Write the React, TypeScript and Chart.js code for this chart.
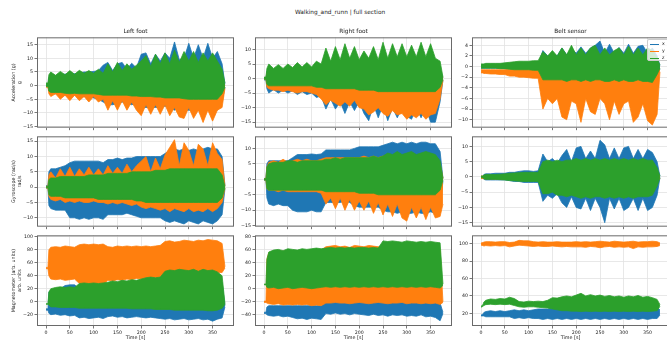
import React, { useEffect, useRef } from 'react';
import { Chart, registerables } from 'chart.js';
Chart.register(...registerables);

// ---------- data ----------
const TIME = [0, 4, 6, 10, 20, 30, 40, 50, 60, 70, 80, 90, 100, 110, 120, 130, 140, 150, 160, 170, 180, 190, 200, 210, 220, 230, 240, 250, 260, 270, 280, 290, 300, 310, 320, 330, 340, 350, 360, 370, 376];
const X_TICKS = [0, 50, 100, 150, 200, 250, 300, 350];
const X_MIN = -19;
const X_MAX = 395;

const SUPTITLE = 'Walking_and_runn | full section';
const COL_TITLES = ['Left foot', 'Right foot', 'Belt sensor'];
const ROW_LABELS = [['Acceleration (g)', 'g'], ['Gyroscope (rad/s)', 'rad/s'], ['Magnetometer (arb. units)', 'arb. units']];
const X_LABEL = 'Time [s]';
const SERIES = ['x', 'y', 'z'];
const COLORS = ['#1f77b4', '#ff7f0e', '#2ca02c'];

// Left foot acceleration
const LA_X_HI = [0.3,0.3,3, 3.5,3.5,4,4.2,4.5,4.4,4.6,5,5,5.2, 5.5,7.5,8.5,5.5,8,8.5,6,8.2,6.5,11.5, 12,8,11.5,9,12,10,16,9.5,10,15.5, 10,15,10,15.5,10,12.5,8, 0.5];
const LA_X_LO = [-0.2,-0.2,-2, -2.5,-3,-3,-3.5,-3.5,-3.5,-4,-4,-4,-4.5, -5,-6,-7,-7,-6.5,-6,-6.5,-7,-6.5,-8, -8,-8,-8,-8,-7.5,-8,-9,-8,-9,-9, -9,-9,-9.5,-9,-9,-9,-6, -0.5];
const LA_Y_HI = [-0.3,-0.3,1.5, 2,2,2,2.5,2.5,2.5,2.5,2.5,2.5,2.5, 2.5,3,3,3,3,3,3,3,3,3.5, 3.5,3.5,3.5,3.5,3.5,3.5,3.5,3.5,3.5,3.5, 3.5,3.5,3.5,3.5,3.5,3.5,2, 0];
const LA_Y_LO = [-0.6,-0.6,-3, -4,-3,-5,-3.5,-5.5,-3.5,-5.5,-4,-6,-4, -6,-5,-9,-5.5,-9,-5.5,-9,-6,-9,-11, -7,-10.5,-7,-10.5,-7,-11,-8,-11.5,-12,-8, -12,-9,-13.5,-9,-13,-9,-8, -1];
const LA_Z_HI = [1,1,4, 5,3.8,5.2,4,5.5,4.2,5.6,4.5,5.5,4.5, 6,4.5,8,5,8.5,5.5,8,6,7.5,9, 11,7,11.5,8,12,8,13,8.5,12.5,9, 12.5,8.5,12,9,12,9,6, 1];
const LA_Z_LO = [-0.3,-0.3,-2, -2.5,-2.5,-2.5,-2.8,-3,-2.8,-3,-3,-3,-3, -3.2,-3.5,-3.5,-3.5,-3.5,-3.5,-3.5,-3.8,-3.8,-4, -4,-4,-4.2,-4.2,-4.5,-4.5,-4.5,-4.5,-4.8,-5, -5,-5,-5,-5,-5,-5,-3, -0.5];

// Right foot acceleration
const RA_X_HI = [0.3,0.3,2.5, 3,3,3,3,3,3,3,3,3,3, 3.5,3.5,3.5,3.5,3.5,3.5,3.5,3.5,3.5,3.5, 3.5,3.5,3.5,3.5,3.5,3.5,3.5,3.5,3.5,3.5, 3.5,3.5,3.5,3.5,3.5,3.5,3, 0.3];
const RA_X_LO = [-0.5,-0.5,-3.5, -5,-3.8,-5,-4,-5,-4.2,-5.5,-4.5,-5.5,-5, -6.5,-6,-10.5,-7,-10.5,-8,-12,-8,-11,-8, -12,-14.5,-9,-13.5,-9,-14.5,-10,-13.5,-10,-13, -14,-10,-13.5,-10,-15,-15,-8, -0.5];
const RA_Y_HI = [0.2,0.2,2, 2.5,2.5,2.5,2.5,2.5,2.5,2.5,2.5,2.5,2.5, 2.5,2.5,2.5,2.5,2.5,2.5,2.5,2.5,2.5,2.5, 2.5,2.5,2.5,2.5,2.5,2.5,2.5,2.5,2.5,2.5, 2.5,2.5,2.5,2.5,2.5,2.5,2, 0.2];
const RA_Y_LO = [-0.2,-0.2,-3, -3.5,-4,-4,-4.5,-4,-4.5,-5,-4.5,-4.5,-5, -5.5,-7,-9,-7.5,-8.5,-9.5,-8,-9.5,-7.5,-10, -10.5,-12.5,-11.5,-10,-12,-13,-11,-12.5,-12,-14, -12.5,-13.5,-12,-14,-12.5,-12,-7, -0.5];
const RA_Z_HI = [0.5,0.5,3.5, 5,3.5,4.8,3.5,5,3.8,5.5,4,5.5,4, 6,5,10.5,6,11,6.5,12,7,11,6.5, 9.5,7,11,6.5,12.5,7,12,7.5,12,7.5, 11.5,7.5,12.5,7.5,12,7,6, 0.5];
const RA_Z_LO = [-0.2,-0.2,-2, -2.5,-2.5,-2.5,-2.5,-2.5,-2.5,-2.5,-2.5,-2.5,-2.5, -3,-3,-3.5,-3.5,-3.5,-3.5,-3.5,-3.5,-3.5,-4, -4,-4,-4,-4.5,-4.5,-4.5,-4.5,-4.5,-4.5,-4.5, -4.5,-4.5,-4.5,-4.5,-4.5,-4.5,-3, -0.3];

// Belt acceleration
const BA_X_HI = [0.3,0.3,0.4, 0.4,0.4,0.4,0.4,0.4,0.5,0.5,0.5,0.5,0.5, 0.5,0.5,3,2,2.5,2,3.5,2.2,3.4,2.5, 3.7,2.5,3.5,4,4.8,2.5,4.2,2.5,3.6,2.5, 4.2,2.5,3.8,4,2.5,3.5,2, 0.2];
const BA_X_LO = [-0.3,-0.3,-0.3, -0.3,-0.3,-0.3,-0.3,-0.4,-0.4,-0.4,-0.4,-0.4,-0.4, -0.4,-0.5,-2.5,-2.5,-2.5,-2.5,-2.5,-2.5,-2.5,-2.5, -2.5,-2.5,-2.5,-2.5,-2.5,-2.5,-2.5,-2.5,-2.5,-2.5, -2.5,-2.5,-2.5,-2.5,-2.5,-2.5,-1.5, -0.5];
const BA_Y_HI = [-0.6,-0.6,-0.6, -0.6,-0.6,-0.6,-0.6,-0.6,-0.5,-0.5,-0.5,-0.5,-0.5, -0.5,-0.5,0.5,0.5,0.5,0.5,0.5,0.5,0.5,0.5, 0.5,0.5,0.5,0.5,0.5,0.5,0.5,0.5,0.5,0.5, 0.5,0.5,0.5,0.5,0.5,0.5,-0.3, -0.6];
const BA_Y_LO = [-1.2,-1.2,-1.3, -1.3,-1.4,-1.4,-1.5,-1.5,-1.8,-1.8,-2,-2,-2.1, -2.2,-2.2,-8,-6,-7,-6,-9.5,-10,-6.5,-7, -10.5,-6,-8.5,-9,-6,-7,-10,-6.5,-9,-7, -6.5,-10.5,-9.5,-7,-10.2,-11,-9, -1];
const BA_Z_HI = [0.5,0.5,0.5, 0.6,0.6,0.6,0.6,0.7,0.8,0.9,1,1,1, 1.1,1.1,2.8,2,3,2,3.5,2.2,4,2.2, 3.5,2.2,3.5,4,2.2,3.5,2.2,3,3.5,2.2, 3.8,2.2,3.5,2.2,3.5,3,1.5, 0.3];
const BA_Z_LO = [-0.3,-0.3,-0.3, -0.3,-0.3,-0.3,-0.4,-0.4,-0.5,-0.6,-0.6,-0.6,-0.6, -0.7,-0.7,-2.5,-2.5,-2.5,-2.5,-2.5,-2.8,-2.5,-2.5, -2.8,-2.5,-2.8,-2.5,-2.5,-2.8,-2.8,-2.5,-2.8,-2.5, -2.8,-2.8,-2.5,-2.8,-2.8,-3,-1.5, -0.3];

// Left foot gyroscope
const LG_X_HI = [0.5,0.5,5, 6,6,6.5,7,8,8.5,8.5,8.5,8.5,8.5, 8.5,8,9,9,9.5,9,9.5,9.5,10,10, 10,10,10,10,11,12,12.5,12,12.5,12, 12.5,12,12.5,13,12.5,12.5,10, 0.5];
const LG_X_LO = [-0.3,-0.3,-6, -7,-7.5,-7.5,-7.5,-10,-10,-10.5,-10,-10.5,-10, -10,-10.5,-9,-9,-9,-9,-8.5,-9,-9.5,-10, -10,-10,-10,-10,-11,-11.5,-11,-11.5,-12,-11, -11.5,-12,-11,-11.5,-12,-11,-9, -0.5];
const LG_Y_HI = [0.3,0.3,4, 5,3,6,3.5,6.5,3.5,6,4,6.5,4, 6,4,7,4.5,6.5,4.5,7.5,5,7,8.5, 10,5,9.5,6,10.5,13,15.5,7,14.5,12, 7,14,12.5,7,14.5,11,9, 0.3];
const LG_Y_LO = [-0.3,-0.3,-3, -4,-4.5,-4,-5,-4.5,-5,-4.5,-5,-5,-4.5, -5,-5,-5.5,-5,-5.5,-5,-5.5,-6,-5.5,-6.5, -7,-6.5,-7,-7.5,-7,-8,-7,-7.5,-8,-7, -8,-7.5,-8,-7,-8,-7,-5, -0.3];
const LG_Z_HI = [0.2,0.2,2.5, 3,3,3.5,3.5,3.5,3.5,3.5,3.5,4,4, 4,4,4.5,4.5,4.5,4.5,4.5,5,5,5, 5,5,5.5,5.5,5.5,6,6,6,6,6, 6,6,6,6,6,6,4, 0.2];
const LG_Z_LO = [-0.2,-0.2,-2.5, -3,-3,-3,-3.5,-3.5,-3.5,-3.5,-3.5,-3.5,-3.5, -4,-4,-4,-4,-4,-4,-4,-4,-4.5,-4.5, -5,-5,-5,-5,-5,-5,-5,-5,-5,-5, -5,-5,-5,-5,-5,-5,-3.5, -0.2];

// Right foot gyroscope
const RG_X_HI = [0.3,0.3,5, 6,6,6,6,6,7,8,8,8,8.2, 8,8.2,9.5,9.5,9.5,9.5,9.5,9.5,10,10.5, 10.5,10.5,10.5,10.5,11,11.5,12,11.5,12,11.5, 12,11.5,12,12,11.5,11.5,9, 0.3];
const RG_X_LO = [-0.3,-0.3,-6, -8,-8.5,-8,-8.5,-8.5,-10,-10.5,-10.5,-10.5,-10, -10.5,-10.5,-7.5,-7.5,-7.5,-7.5,-7,-7.5,-8.5,-9, -9,-9,-9,-9,-10,-10.5,-10.5,-11,-10.5,-11, -11,-10.5,-11,-11,-10.5,-11,-9, -0.5];
const RG_Y_HI = [0.2,0.2,4, 5.5,6,5.5,6.5,5.5,6,6.5,6,6.5,6, 6,6.5,7,7,7,7,7,7,7,7, 7.5,7,7.5,7,7.5,7.5,7.5,7.5,7.5,7.5, 7.5,7.5,7.5,7.5,7.5,7,5, 0.3];
const RG_Y_LO = [-0.2,-0.2,-3, -3.5,-3.5,-4,-3.5,-4,-4,-4,-4,-4,-4, -4,-4.5,-8,-6,-9.5,-6,-10,-6.5,-10,-7,-10, -7,-11,-7.5,-11.5,-8,-12,-8,-12.5,-13.5,-9, -12.5,-9,-13,-9,-12.5,-12,-8, -0.3];
const RG_Z_HI = [0.2,0.2,4, 5,5.5,5.5,5.5,6,6,5.5,6,6,6, 6,6,6.5,6.5,7,6.5,7,7,7,7, 7,7,7.5,7,7.5,8.5,8,9,8,8.5, 9,8,8.5,9,8.5,8,6, 0.3];
const RG_Z_LO = [-0.2,-0.2,-3, -3.5,-3.5,-3.5,-3.5,-3.5,-3.5,-3.5,-3.5,-3.5,-3.5, -3.5,-3.5,-4,-4,-4,-4,-4,-4,-4,-4.5, -4.5,-4.5,-4.5,-5,-5,-5,-5,-5,-5,-5, -5,-5,-5,-5,-5,-5,-3.5, -0.2];

// Belt gyroscope
const BG_X_HI = [0.2,0.2,0.8, 1,1,1.2,1.2,1.2,1.5,1.5,1.8,2,2, 1.8,2,7.5,5,6,4.5,7,9,5,9.5, 10,6,8.5,6,12,10.5,6,9.5,6,9.5, 10,6,9,6,9,8,5, 0.2];
const BG_X_LO = [-0.2,-0.2,-0.8, -1,-1,-1,-1,-1,-1.2,-1.5,-1.5,-1.8,-1.8, -1.8,-1.8,-8,-6,-7,-5.5,-8.5,-10,-6.5,-10, -10.5,-7,-11,-7,-10,-15,-7,-10.5,-7,-11, -10,-7,-11,-7,-11,-10,-6, -0.2];
const BG_Y_HI = [0.3,0.3,0.3, 0.3,0.3,0.3,0.3,0.4,0.4,0.4,0.5,0.5,0.5, 0.5,0.5,2,2,2,2,2,2,2,2, 2,2,2,2,2,2,2,2,2,2, 2,2,2,2,2,2,1, 0.3];
const BG_Y_LO = [-0.5,-0.5,-0.6, -0.6,-0.6,-0.7,-0.7,-0.7,-0.8,-0.8,-0.8,-0.8,-0.8, -0.8,-0.8,-2.5,-2.5,-2.5,-2.5,-2.5,-2.5,-2.5,-2.5, -2.5,-2.5,-2.5,-2.5,-2.5,-2.5,-2.5,-2.5,-2.5,-2.5, -2.5,-2.5,-2.5,-2.5,-2.5,-2.5,-1.5, -0.5];
const BG_Z_HI = [0.3,0.3,0.6, 0.8,0.8,0.8,0.9,1,1.2,1.3,1.4,1.5,1.5, 1.5,1.5,5,5.5,5,5.5,5,5.5,5.5,6, 5.5,6,5.5,6,5.5,6,5.5,6,5.5,6, 5.5,6,5.5,6,5.5,5.5,3, 0.3];
const BG_Z_LO = [-0.3,-0.3,-0.6, -0.8,-0.8,-0.8,-0.9,-1,-1.2,-1.3,-1.4,-1.5,-1.5, -1.5,-1.5,-5.5,-5.5,-5,-6,-6,-6.5,-6,-6.5, -7,-6.5,-7,-6.5,-6.5,-7,-6.5,-7,-6.5,-7, -6.5,-7,-6.5,-6.5,-6.5,-6,-3, -0.3];

// Left foot magnetometer
const LM_X_HI = [-11,-11,15, 18,18,20,25,26,26,20,20,20,20, 22,22,25,25,25,25,28,30,30,30, 30,30,30,30,35,35,35,35,35,35, 35,35,35,35,35,35,30, -6];
const LM_X_LO = [-13,-13,-18, -20,-19,-21,-20,-22,-21,-25,-24,-26,-25, -24,-26,-23,-22,-24,-23,-25,-24,-23,-24, -25,-24,-25,-26,-27,-26,-28,-27,-26,-28, -27,-26,-28,-27,-30,-27,-25, -8];
const LM_Y_HI = [53,53,80, 84,85,84,86,85,84,88,89,88,89, 88,89,85,84,86,85,86,85,86,85, 86,85,86,87,93,94,92,93,95,94, 93,95,94,96,95,94,90, 54];
const LM_Y_LO = [51,51,40, 35,34,35,33,34,35,28,27,28,27, 28,27,33,32,34,33,35,34,36,35, 37,38,37,38,45,45,45,45,45,45, 45,45,45,45,45,45,45, 52];
const LM_Z_HI = [-3,-3,15, 20,22,23,22,23,22,28,29,28,29, 28,29,30,32,31,33,32,34,33,35, 37,38,37,38,47,49,48,50,49,48, 50,47,50,48,49,46,40, -3];
const LM_Z_LO = [-4,-4,-5, -8,-8,-9,-9,-9,-9,-10,-10,-10,-10, -10,-10,-10,-10,-10,-10,-10,-11,-11,-11, -11,-11,-12,-12,-12,-12,-13,-13,-13,-13, -13,-13,-13,-14,-14,-13,-10, -4];

// Right foot magnetometer
const RM_X_HI = [-36,-36,-28, -26,-26,-26,-26,-26,-26,-26,-26,-26,-26, -26,-26,-20,-20,-20,-20,-20,-20,-20,-20, -20,-20,-20,-20,-20,-20,-20,-20,-20,-20, -20,-20,-20,-20,-20,-20,-22, -36];
const RM_X_LO = [-38,-38,-40, -41,-42,-41,-43,-42,-44,-46,-45,-47,-45, -46,-47,-38,-39,-37,-39,-38,-40,-38,-39, -40,-41,-39,-41,-40,-42,-40,-41,-40,-42, -41,-42,-40,-43,-42,-44,-49, -38];
const RM_Y_HI = [-19,-19,45, 55,57,58,57,59,57,58,57,58,59, 60,59,64,65,66,64,65,63,66,65, 64,66,65,64,66,65,66,64,65,66, 65,66,64,65,66,65,60, -20];
const RM_Y_LO = [-21,-21,-22, -23,-24,-23,-25,-24,-25,-24,-25,-24,-26, -25,-26,-22,-22,-21,-22,-22,-23,-22,-21, -22,-23,-22,-21,-22,-23,-22,-22,-21,-23, -22,-22,-23,-22,-23,-22,-24, -21];
const RM_Z_HI = [7,7,45, 56,59,60,58,61,60,59,61,60,61, 62,61,62,63,62,63,62,63,62,63, 63,62,63,62,73,72,73,72,71,73, 72,71,72,71,72,71,70, 7];
const RM_Z_LO = [6,6,2, 1,2,0,1,2,0,1,2,1,0, 1,2,3,2,3,2,3,2,3,2, 3,2,3,2,3,2,3,2,3,2, 3,2,3,2,3,2,1, 5];

// Belt magnetometer
const BM_X_HI = [18,19,21, 22,23,22,23,22,23,24,23,24,23, 24,25,25,25,26,26,27,27,27,27, 27,27,27,27,27,27,27,27,27,27, 27,27,27,27,27,27,27, 24];
const BM_X_LO = [17,17,17, 16,16,16,16,16,16,14,15,14,15, 14,14,13,14,13,14,13,14,13,14, 13,14,13,14,13,14,13,14,13,14, 13,14,13,14,13,14,14, 18];
const BM_Y_HI = [101,101.5,102, 102.5,102.5,102,102.5,102.5,101.5,102,104,103.5,103.5, 102.5,102,102.5,102,102,102.5,102,102,102,102.5, 102,102.5,102,102.5,103,102.5,102,103,102.5,102, 102.5,103,102,102.5,102.5,103,102.5, 101];
const BM_Y_LO = [98.5,98,97.5, 98,97.5,98,97.5,98,96.5,97.5,98.5,98,97.5, 97,97.5,97,97,97.5,97,96.5,97,96.5,96.5, 96.5,96,97,96.5,95.5,96.5,97,96,96.5,96, 96.5,94.5,96.5,96,96.5,96.5,97, 98];
const BM_Z_HI = [28,30,33, 35,36.5,36,37,36.5,38.5,37,33.5,33,34, 33.5,34,33.5,35,38,37.5,39,40,39,41, 43,40,41.5,40,41,39.5,40.5,39,40,38.5, 40,39,40.5,38.5,39.5,38,36, 30];
const BM_Z_LO = [27,28,29, 30,30.5,30,30.5,30,30.5,29,27.5,27,27.5, 27.5,27,26.5,26,25,24,23,23,22.5,22.5, 22,22.5,22,22.5,22,22.5,22,22.5,22,22.5, 22,22.5,22,22.5,22,22.5,23, 28];

// y tick labels per panel
const LA_TICKS = [-15, -10, -5, 0, 5, 10, 15];
const RA_TICKS = [-15, -10, -5, 0, 5, 10];
const BA_TICKS = [-10, -8, -6, -4, -2, 0, 2, 4];
const LG_TICKS = [-10, -5, 0, 5, 10, 15];
const RG_TICKS = [-15, -10, -5, 0, 5, 10];
const BG_TICKS = [-15, -10, -5, 0, 5, 10];
const LM_TICKS = [-20, 0, 20, 40, 60, 80, 100];
const RM_TICKS = [-40, -20, 0, 20, 40, 60, 80];
const BM_TICKS = [20, 40, 60, 80, 100];

const PANELS = [
  { series: [[LA_X_HI, LA_X_LO], [LA_Y_HI, LA_Y_LO], [LA_Z_HI, LA_Z_LO]], yMin: -15.4, yMax: 17.7, yTicks: LA_TICKS },
  { series: [[RA_X_HI, RA_X_LO], [RA_Y_HI, RA_Y_LO], [RA_Z_HI, RA_Z_LO]], yMin: -16.9, yMax: 14.2, yTicks: RA_TICKS },
  { series: [[BA_X_HI, BA_X_LO], [BA_Y_HI, BA_Y_LO], [BA_Z_HI, BA_Z_LO]], yMin: -11.5, yMax: 5.5, yTicks: BA_TICKS },
  { series: [[LG_X_HI, LG_X_LO], [LG_Y_HI, LG_Y_LO], [LG_Z_HI, LG_Z_LO]], yMin: -12.9, yMax: 16.6, yTicks: LG_TICKS },
  { series: [[RG_X_HI, RG_X_LO], [RG_Y_HI, RG_Y_LO], [RG_Z_HI, RG_Z_LO]], yMin: -15.3, yMax: 13.9, yTicks: RG_TICKS },
  { series: [[BG_X_HI, BG_X_LO], [BG_Y_HI, BG_Y_LO], [BG_Z_HI, BG_Z_LO]], yMin: -16.3, yMax: 13.3, yTicks: BG_TICKS },
  { series: [[LM_X_HI, LM_X_LO], [LM_Y_HI, LM_Y_LO], [LM_Z_HI, LM_Z_LO]], yMin: -37.5, yMax: 102.5, yTicks: LM_TICKS },
  { series: [[RM_X_HI, RM_X_LO], [RM_Y_HI, RM_Y_LO], [RM_Z_HI, RM_Z_LO]], yMin: -57, yMax: 81.5, yTicks: RM_TICKS },
  { series: [[BM_X_HI, BM_X_LO], [BM_Y_HI, BM_Y_LO], [BM_Z_HI, BM_Z_LO]], yMin: 5.4, yMax: 109.8, yTicks: BM_TICKS },
];

// ---------- layout ----------
const FONT = 'DejaVu Sans';
const TEXT = '#222';
const PLOT_LEFT = [37, 255, 472];
const PLOT_TOP = [36, 135, 234];
const PLOT_W = 197;
const PLOT_H = 92;

function fmt(v: number): string {
  return v < 0 ? '\u2212' + Math.abs(v) : String(v);
}

const framePlugin = {
  id: 'frame',
  afterDatasetsDraw(chart: any) {
    const { ctx, chartArea: a } = chart;
    ctx.save();
    ctx.strokeStyle = '#6a6a6a';
    ctx.lineWidth = 1;
    ctx.strokeRect(a.left + 0.5, a.top + 0.5, a.right - a.left - 1, a.bottom - a.top - 1);
    ctx.restore();
  },
};

function Panel({ row, col }: { row: number; col: number }) {
  const ref = useRef<HTMLCanvasElement>(null);
  const p = PANELS[row * 3 + col];
  const yW = col === 0 ? 37 : 30;
  const padT = 3;
  const padR = 3;
  const xH = row === 2 ? 17 : 4;
  const left = PLOT_LEFT[col] - yW;
  const top = PLOT_TOP[row] - padT;
  const width = yW + PLOT_W + padR;
  const height = padT + PLOT_H + xH;

  useEffect(() => {
    if (!ref.current) return;
    const datasets: any[] = [];
    p.series.forEach(([hi, lo]: number[][], k: number) => {
      datasets.push({
        label: SERIES[k] + ' low',
        data: TIME.map((t, i) => ({ x: t, y: lo[i] })),
        borderColor: COLORS[k],
        backgroundColor: COLORS[k],
        borderWidth: 0.8,
        pointRadius: 0,
        fill: false,
        order: 3 - k,
      });
      datasets.push({
        label: SERIES[k],
        data: TIME.map((t, i) => ({ x: t, y: hi[i] })),
        borderColor: COLORS[k],
        backgroundColor: COLORS[k],
        borderWidth: 0.8,
        pointRadius: 0,
        fill: '-1',
        order: 3 - k,
      });
    });
    const gridOpts = { color: '#e2e2e2', lineWidth: 0.8, tickLength: 2.5, tickColor: '#555', tickWidth: 0.8, drawTicks: true };
    const chart = new Chart(ref.current, {
      type: 'line',
      data: { datasets },
      options: {
        animation: false,
        responsive: false,
        maintainAspectRatio: false,
        events: [],
        layout: { padding: { top: padT, right: padR, left: 0, bottom: 0 } },
        plugins: { legend: { display: false }, tooltip: { enabled: false }, title: { display: false } },
        elements: { line: { tension: 0 }, point: { radius: 0 } },
        scales: {
          x: {
            type: 'linear',
            min: X_MIN,
            max: X_MAX,
            afterBuildTicks: (s: any) => { s.ticks = X_TICKS.map((v) => ({ value: v })); },
            afterFit: (s: any) => { s.height = xH; },
            ticks: { display: row === 2, font: { family: FONT, size: 4.7 }, color: TEXT, padding: 1, maxRotation: 0, autoSkip: false, callback: (v: any) => fmt(Number(v)) },
            grid: gridOpts,
            border: { display: false },
            title: row === 2
              ? { display: true, text: X_LABEL, font: { family: FONT, size: 4.8, lineHeight: 1.2 }, color: TEXT, padding: { top: 0, bottom: 2 } }
              : { display: false },
          },
          y: {
            type: 'linear',
            min: p.yMin,
            max: p.yMax,
            afterBuildTicks: (s: any) => { s.ticks = p.yTicks.map((v: number) => ({ value: v })); },
            afterFit: (s: any) => { s.width = yW; },
            ticks: { font: { family: FONT, size: 4.7 }, color: TEXT, padding: 1.5, autoSkip: false, callback: (v: any) => fmt(Number(v)) },
            grid: gridOpts,
            border: { display: false },
            title: col === 0
              ? { display: true, text: ROW_LABELS[row], font: { family: FONT, size: 4.8, lineHeight: 1.4 }, color: TEXT, padding: { top: 10, bottom: 0 } }
              : { display: false },
          },
        },
      } as any,
      plugins: [framePlugin],
    });
    return () => chart.destroy();
  }, []);

  return (
    <canvas
      ref={ref}
      width={width}
      height={height}
      style={{ position: 'absolute', left, top, width, height }}
    />
  );
}

export default function App() {
  const panels = [];
  for (let r = 0; r < 3; r++) for (let c = 0; c < 3; c++) panels.push(<Panel key={r * 3 + c} row={r} col={c} />);
  return (
    <div style={{ position: 'fixed', left: 0, top: 0, width: 667, height: 341, overflow: 'hidden', background: '#fff', fontFamily: FONT, color: TEXT }}>
      {panels}
      <div style={{ position: 'absolute', left: 140, width: 400, top: 8, height: 8, lineHeight: '8px', fontSize: 5.8, textAlign: 'center', whiteSpace: 'nowrap', color: TEXT }}>{SUPTITLE}</div>
      {COL_TITLES.map((t, c) => (
        <div key={t} style={{ position: 'absolute', left: PLOT_LEFT[c] + PLOT_W / 2 - 60, width: 120, top: 27, height: 8, lineHeight: '8px', fontSize: 5.8, textAlign: 'center', whiteSpace: 'nowrap' }}>{t}</div>
      ))}
      <div style={{ position: 'absolute', left: 647, top: 39, width: 30, height: 22, background: 'rgba(255,255,255,0.8)', border: '0.8px solid #cccccc', borderRadius: 2, boxSizing: 'border-box' }}>
        {SERIES.map((s, k) => (
          <div key={s} style={{ position: 'absolute', left: 0, top: 1 + k * 7.2, height: 6, width: 30 }}>
            <div style={{ position: 'absolute', left: 2, top: 2.8, width: 9, height: 1, background: COLORS[k] }} />
            <div style={{ position: 'absolute', left: 14, top: 0, height: 6, lineHeight: '6px', fontSize: 4.7 }}>{s}</div>
          </div>
        ))}
      </div>
    </div>
  );
}
